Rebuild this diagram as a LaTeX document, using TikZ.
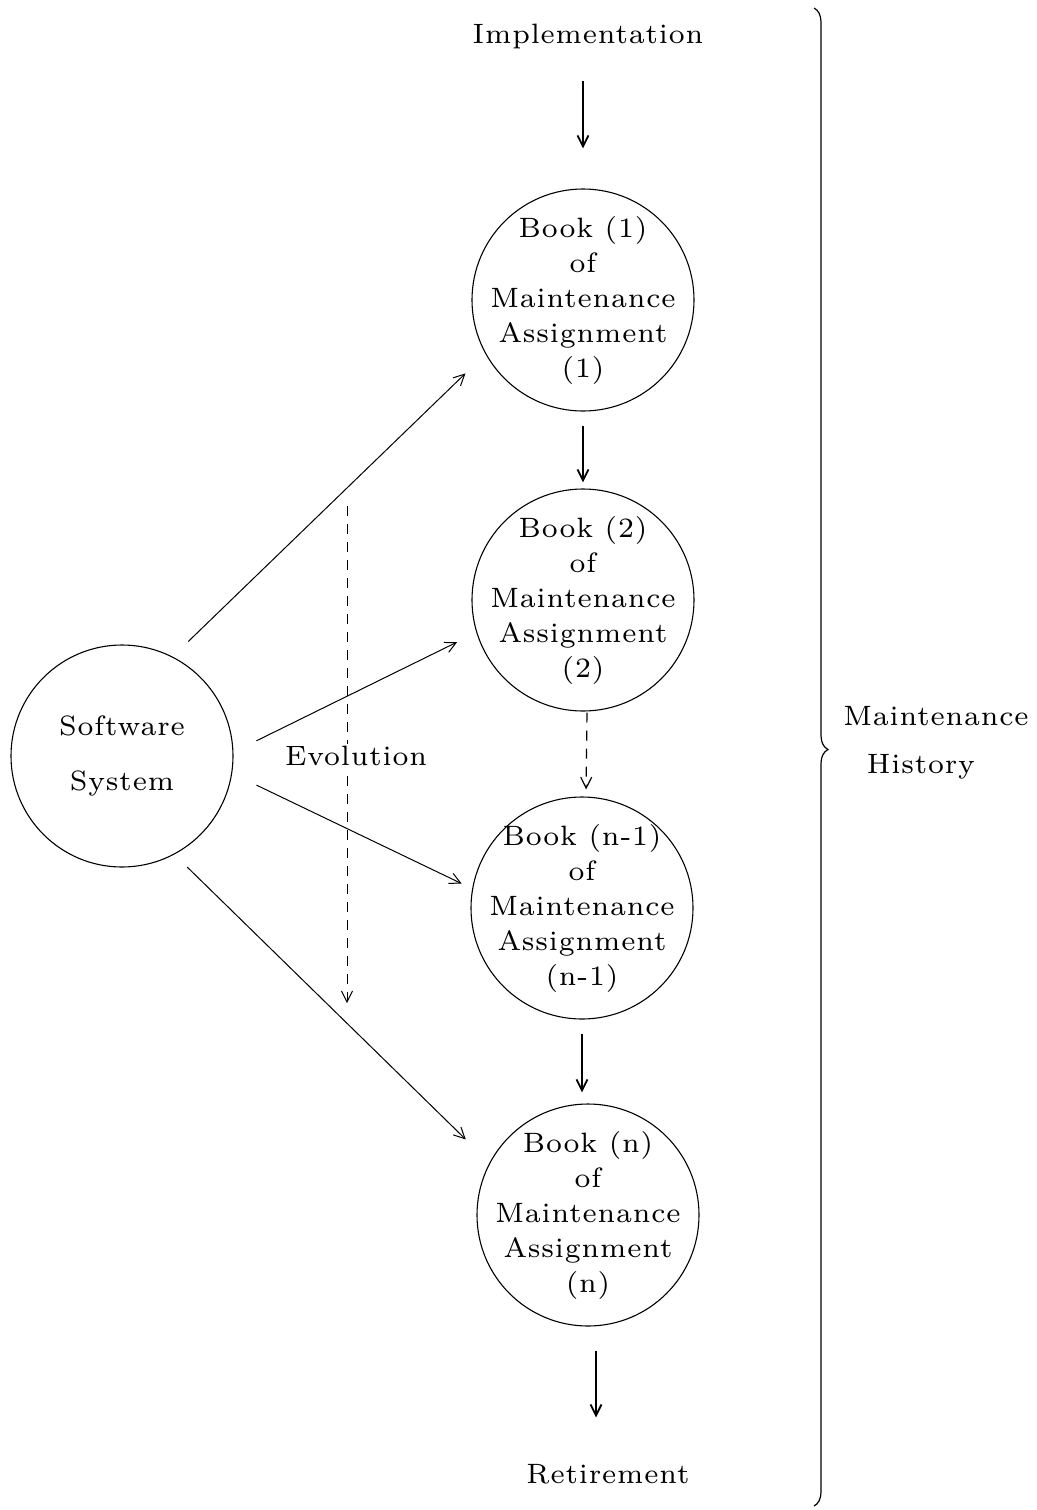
\documentclass[tikz,border=0pt]{standalone}
\usepackage{fontspec}
\setmainfont{lmroman7-regular.otf}[LetterSpace=3]
\usetikzlibrary{arrows.meta,decorations.pathreplacing}
\begin{document}
\begin{tikzpicture}[x=0.5pt,y=-0.5pt,
  lbl/.style={font=\fontsize{14}{17.5}\selectfont, inner sep=0pt, align=center},
  bookcircle/.style={lbl, circle, draw, line width=0.55pt, inner sep=-14pt, minimum size=111pt},
  tip/.style={-{Straight Barb[length=5.5pt,width=5.5pt]}},
  flow/.style={tip, line width=0.9pt},
  link/.style={tip, line width=0.5pt},
  evo/.style={tip, line width=0.5pt, dash pattern=on 5pt off 4pt}]
\useasboundingbox (0,0) rectangle (1037,1510);

% life-cycle ends
\node[lbl, anchor=base] (impl) at (588,43) {Implementation};
\node[lbl, anchor=base] (retire) at (608,1483) {Retirement};

% the system and its books
\node[bookcircle, font=\fontsize{14}{27.5}\selectfont] (sw) at (122,756) {Software\\System};
\node[bookcircle] (b1) at (583,300) {Book (1)\\of\\Maintenance\\Assignment\\(1)};
\node[bookcircle] (b2) at (583,600) {Book (2)\\of\\Maintenance\\Assignment\\(2)};
\node[bookcircle] (b3) at (582,908) {Book (n-1)\\of\\Maintenance\\Assignment\\(n-1)};
\node[bookcircle] (b4) at (588,1215) {Book (n)\\of\\Maintenance\\Assignment\\(n)};

% sequence of books
\draw[flow, shorten <=16pt, shorten >=20pt] (impl.south -| b1.north) -- (b1.north);
\draw[flow, shorten <=7pt, shorten >=3pt] (b1.south) -- (b2.north);
\draw[evo, line width=0.6pt, shorten <=0.5pt, shorten >=3.5pt] ([xshift=2pt]b2.south) -- ([xshift=2pt]b3.north);
\draw[flow, shorten <=7pt, shorten >=5.5pt] (b3.south) -- (b3.south |- b4.north);
\draw[flow, shorten <=12pt, shorten >=23pt] ([xshift=4pt]b4.south) -- ([xshift=4pt]b4.south |- retire.north);

% the system feeds every book
\draw[link, shorten <=10.8pt, shorten >=13.9pt] (sw.63) -- (b1.209);
\draw[link, shorten <=12.8pt, shorten >=10.7pt] (sw.2) -- (b2.197.7);
\draw[link, shorten <=13.5pt, shorten >=5.8pt] (sw.351.1) -- (b3.170.7);
\draw[link, shorten <=9pt, shorten >=16.6pt] (sw.298.6) -- (b4.152.3);

% evolution over time
\coordinate (evotop) at (347,506);
\coordinate (evobot) at (347,1003);
\draw[evo] (evotop) -- (evobot);
\node[lbl, fill=white, inner sep=1pt] (evolab) at (356,756) {Evolution};

% history brace
\draw[line width=0.6pt, decorate, decoration={brace, amplitude=7pt, aspect=0.495}] (814,8) -- (814,1506);
\node[lbl, font=\fontsize{14}{24}\selectfont] (hist) at (936,743) {Maintenance\\History\hspace*{15pt}};
\end{tikzpicture}
\end{document}
